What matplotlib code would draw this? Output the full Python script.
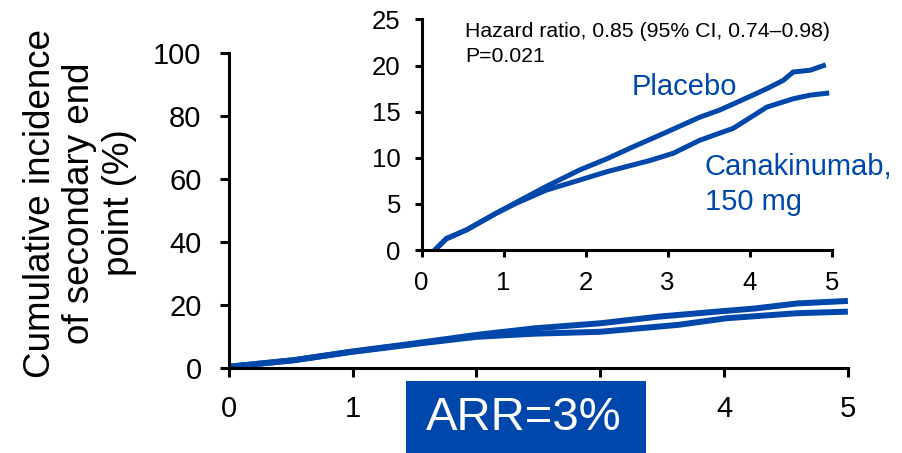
import matplotlib
matplotlib.use("Agg")
import matplotlib.pyplot as plt
from matplotlib.patches import Rectangle

plt.rcParams['font.family'] = ['Liberation Sans', 'DejaVu Sans']

BLUE = '#0047ab'

# main panel (0-5 years, 0-100 %)
main_years = [0.0, 0.53, 0.99, 1.50, 2.0, 2.47, 3.0, 3.47, 3.94, 4.25, 4.59, 5.0]
main_placebo = [0.4, 2.5, 5.2, 7.8, 10.5, 12.6, 14.2, 16.3, 17.9, 18.9, 20.5, 21.3]
main_cana_years = [0.0, 0.53, 0.99, 1.50, 2.0, 2.47, 3.0, 3.63, 4.02, 4.59, 5.0]
main_cana = [0.4, 2.5, 5.1, 7.6, 9.9, 10.9, 11.5, 13.7, 15.8, 17.4, 17.9]

# inset (zoomed y axis)
ins_plac_years = [0.16, 0.30, 0.55, 0.91, 1.16, 1.52, 1.93, 2.26, 2.58, 2.99, 3.39, 3.64, 4.04, 4.21, 4.41, 4.53, 4.74, 4.90]
ins_placebo = [0.0, 1.26, 2.2, 4.0, 5.2, 6.9, 8.7, 9.9, 11.2, 12.8, 14.4, 15.2, 16.8, 17.5, 18.4, 19.3, 19.5, 20.0]
ins_cana_years = [0.16, 0.30, 0.55, 0.91, 1.16, 1.52, 1.93, 2.26, 2.78, 3.07, 3.39, 3.80, 4.21, 4.53, 4.74, 4.94]
ins_cana = [0.0, 1.2, 2.2, 4.0, 5.1, 6.5, 7.6, 8.5, 9.7, 10.5, 11.9, 13.2, 15.5, 16.4, 16.8, 17.0]

main_yticks = [0, 20, 40, 60, 80, 100]
ins_yticks = [0, 5, 10, 15, 20, 25]
xticks = [0, 1, 2, 3, 4, 5]
# 2 and 3 sit under the ARR box
main_xticklabels = ['0', '1', '', '', '4', '5']

fig = plt.figure(figsize=(9.02, 4.53), dpi=100)

#-----main axes-----
ax = fig.add_axes([0.2535, 0.1876, 0.6865, 0.6954])
ax.plot(main_years, main_placebo, color=BLUE, lw=4.3, solid_capstyle='butt')
ax.plot(main_cana_years, main_cana, color=BLUE, lw=4.3, solid_capstyle='butt')
ax.set_xlim(0, 5)
ax.set_ylim(0, 100)
ax.set_xticks(xticks)
ax.set_xticklabels(main_xticklabels)
ax.set_yticks(main_yticks)
for s in ['top', 'right']:
    ax.spines[s].set_visible(False)
for s in ['left', 'bottom']:
    ax.spines[s].set_linewidth(2.2)
ax.tick_params(direction='out', length=6.5, width=2.2, labelsize=21, pad=13)
ax.patch.set_alpha(0)

fig.text(80/902, 1-203/453, 'Cumulative incidence\nof secondary end\npoint (%)',
         rotation=90, ha='center', va='center', fontsize=26.5, linespacing=1.18)

#-----inset-----
axi = fig.add_axes([0.4675, 0.448, 0.4545, 0.509])
axi.plot(ins_plac_years, ins_placebo, color=BLUE, lw=3.6)
axi.plot(ins_cana_years, ins_cana, color=BLUE, lw=3.6)
axi.set_xlim(0, 5)
axi.set_ylim(0, 25)
axi.set_xticks(xticks)
axi.set_yticks(ins_yticks)
for s in ['top', 'right']:
    axi.spines[s].set_visible(False)
for s in ['left', 'bottom']:
    axi.spines[s].set_linewidth(2.2)
axi.tick_params(direction='out', length=5, width=2.2, labelsize=18.5, pad=10)
axi.patch.set_alpha(0)

fig.text(465/902, 1-37/453, 'Hazard ratio, 0.85 (95% CI, 0.74\u20130.98)',
         ha='left', va='baseline', fontsize=15.3)
fig.text(465/902, 1-62/453, 'P=0.021', ha='left', va='baseline', fontsize=15.3)
fig.text(632/902, 1-95/453, 'Placebo', color=BLUE, fontsize=21, ha='left', va='baseline')
fig.text(705/902, 1-175/453, 'Canakinumab,', color=BLUE, fontsize=21,
         ha='left', va='baseline')
fig.text(705/902, 1-210/453, '150 mg', color=BLUE, fontsize=21,
         ha='left', va='baseline')

#-----ARR box-----
fig.patches.append(Rectangle((406/902, 0), 240/902, 72/453, transform=fig.transFigure,
                             facecolor=BLUE, edgecolor='none', zorder=5))
fig.text(524/902, 1-418/453, 'ARR=3%', color='white', fontsize=34,
         ha='center', va='center', zorder=6)

plt.savefig('out.png', dpi=100)
